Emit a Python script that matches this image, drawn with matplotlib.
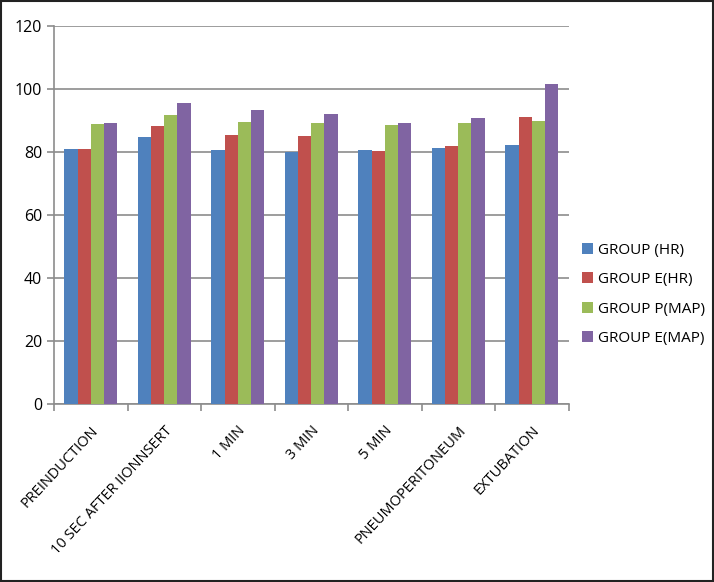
import numpy as np
import matplotlib.pyplot as plt
from matplotlib.patches import Rectangle

categories = ['PREINDUCTION', '10 SEC AFTER IIONNSERT', '1 MIN', '3 MIN', '5 MIN',
              'PNEUMOPERITONEUM', 'EXTUBATION']
series_names = ['GROUP (HR)', 'GROUP E(HR)', 'GROUP P(MAP)', 'GROUP E(MAP)']
group_hr = [81.0, 84.7, 80.5, 79.9, 80.5, 81.3, 82.1]
group_e_hr = [80.9, 88.4, 85.3, 85.2, 80.4, 82.0, 91.1]
group_p_map = [89.0, 91.6, 89.5, 89.3, 88.5, 89.1, 90.0]
group_e_map = [89.2, 95.6, 93.3, 92.1, 89.2, 90.7, 101.7]
colors = ['#4f81bd', '#c0504d', '#9bbb59', '#8064a2']

plt.rcParams['font.family'] = ['Open Sans', 'DejaVu Sans']

fig = plt.figure(figsize=(7.14, 5.82), dpi=100)
ax = fig.add_axes([54/714, 1 - 404/582, (568.5 - 54)/714, (404 - 26)/582])

x = np.arange(len(categories))
w = 0.18
all_vals = [group_hr, group_e_hr, group_p_map, group_e_map]
for i, vals in enumerate(all_vals):
    ax.bar(x + (i - 1.5) * w, vals, width=w, color=colors[i], label=series_names[i], zorder=3)

ax.set_ylim(0, 120)
ax.set_xlim(-0.5, len(categories) - 0.5)
ax.set_yticks(range(0, 121, 20))
ax.yaxis.grid(True, color='#8c8c8c', linewidth=1.2, zorder=0)
ax.set_axisbelow(True)

ax.set_xticks(x)
ax.set_xticklabels(categories, rotation=47, ha='right', rotation_mode='anchor', fontsize=10.5)
ax.tick_params(axis='x', which='major', length=0, pad=14)
ax.set_xticks(np.arange(-0.5, len(categories)), minor=True)
ax.tick_params(axis='x', which='minor', length=5, color='#8c8c8c', width=1.2)
ax.tick_params(axis='y', length=5, color='#8c8c8c', width=1.2, labelsize=11.5)

for s in ['top', 'right']:
    ax.spines[s].set_visible(False)
for s in ['left', 'bottom']:
    ax.spines[s].set_color('#8c8c8c')
    ax.spines[s].set_linewidth(1.2)

ax.legend(loc='center left', bbox_to_anchor=(1.0, 0.29), frameon=False, fontsize=11,
          handlelength=0.7, handleheight=0.7, handletextpad=0.3, labelspacing=0.95)

fig.patches.append(Rectangle((0.002, 0.002), 0.996, 0.996, transform=fig.transFigure,
                             fill=False, edgecolor='#222222', linewidth=1.5))

fig.savefig('out.png', dpi=100)
